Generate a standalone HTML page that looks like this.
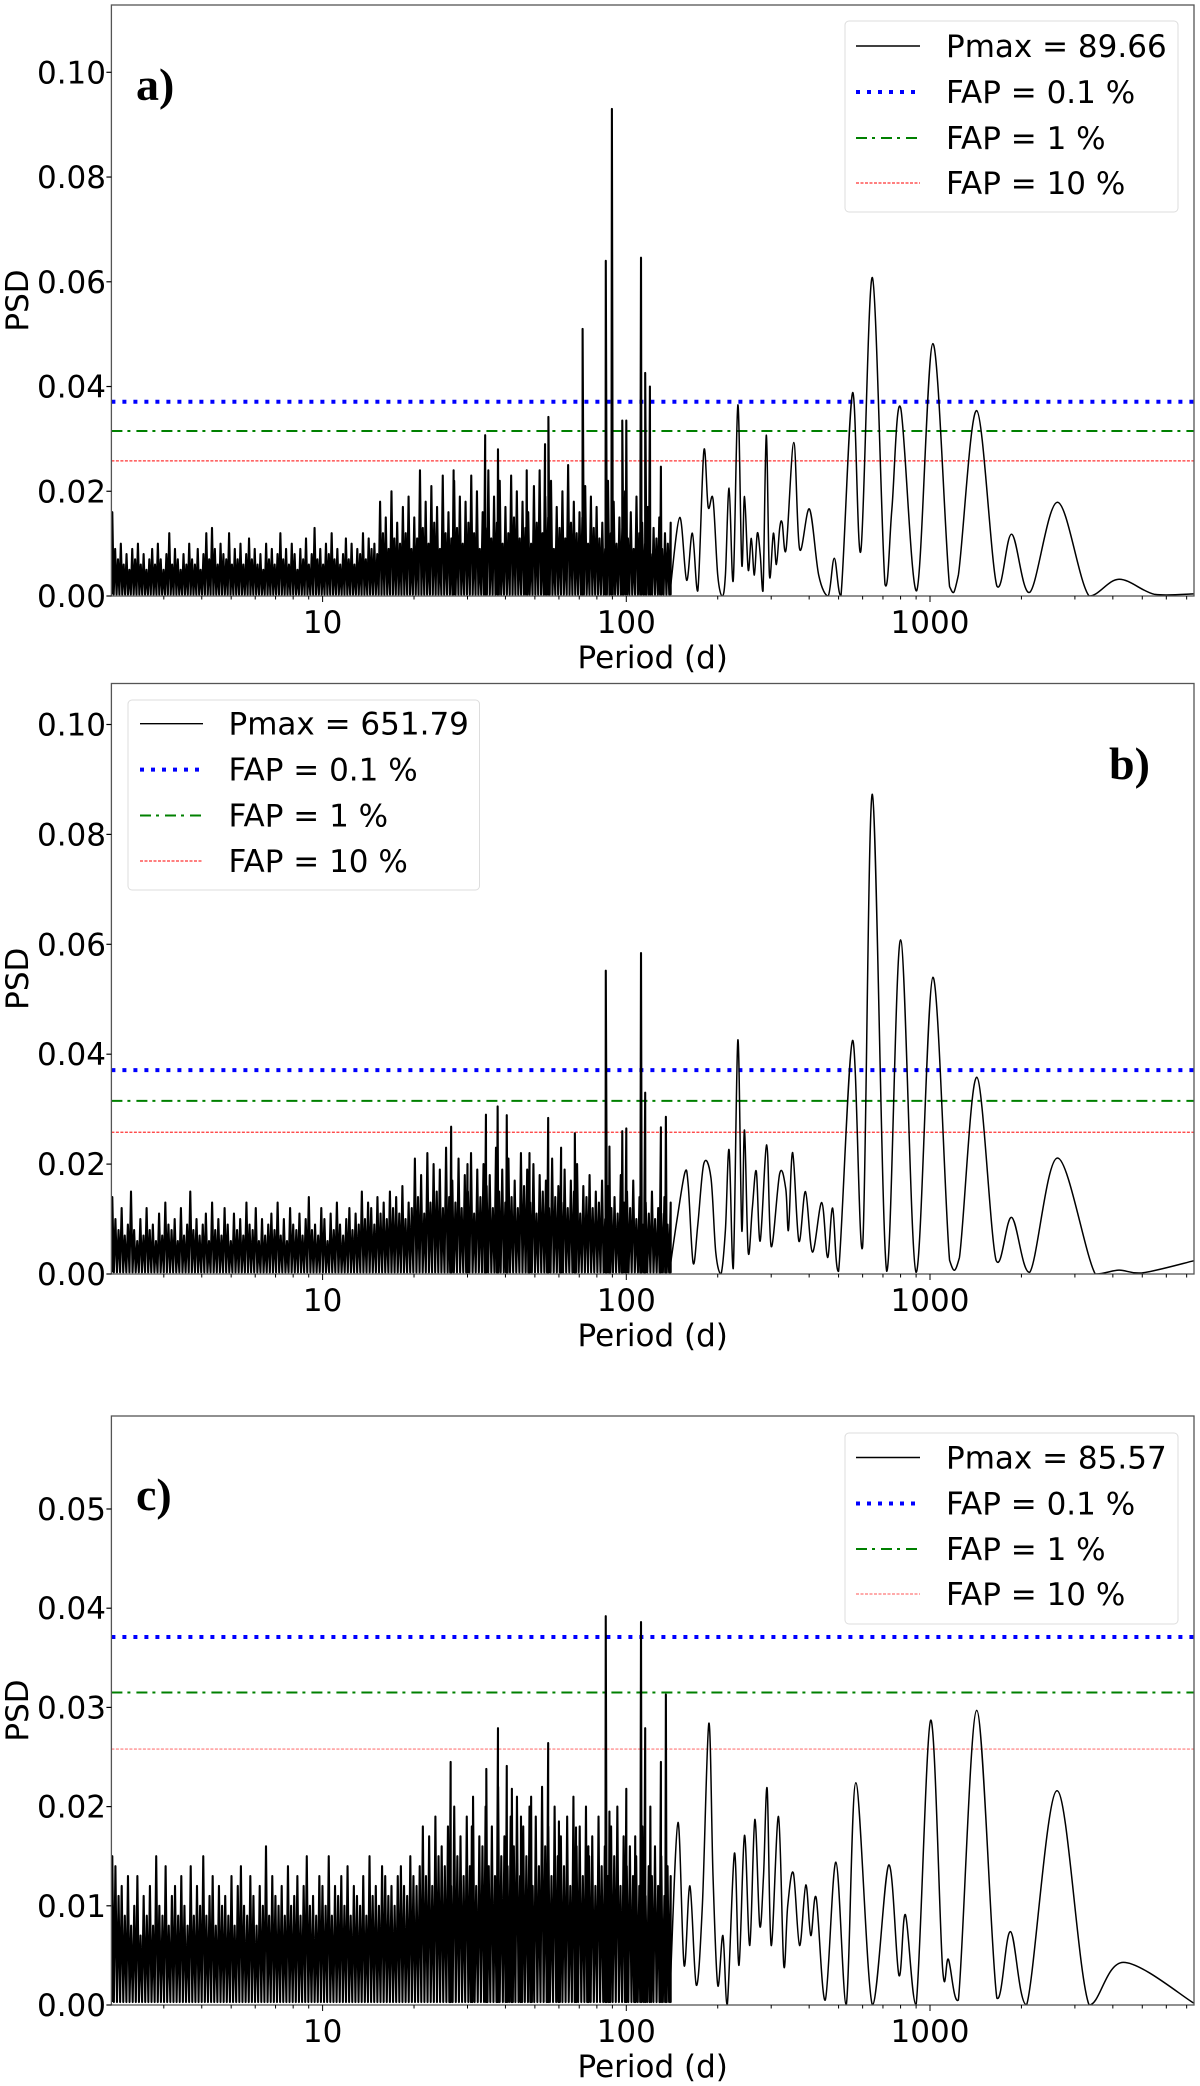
<!DOCTYPE html>
<html><head><meta charset="utf-8"><title>Periodograms</title>
<style>
html,body{margin:0;padding:0;background:#fff;}
svg{display:block;}
text{font-family:"DejaVu Sans","Liberation Sans",sans-serif;fill:#000;}
.lbl{font-family:"Liberation Serif",serif;font-weight:bold;font-size:46px;}
</style></head>
<body>
<svg id="fig" width="1200" height="2086" viewBox="0 0 1200 2086" xmlns="http://www.w3.org/2000/svg"></svg>
<script>
// ---------- data ----------
var fapLevels = [0.0371, 0.0315, 0.0258];
var fapLabels = ["FAP = 0.1 %", "FAP = 1 %", "FAP = 10 %"];
var pmaxLabels = ["Pmax = 89.66", "Pmax = 651.79", "Pmax = 85.57"];
var panelLetters = ["a)", "b)", "c)"];
var yTicksAB = [0.00, 0.02, 0.04, 0.06, 0.08, 0.10];
var yTickLabelsAB = ["0.00", "0.02", "0.04", "0.06", "0.08", "0.10"];
var yTicksC = [0.00, 0.01, 0.02, 0.03, 0.04, 0.05];
var yTickLabelsC = ["0.00", "0.01", "0.02", "0.03", "0.04", "0.05"];
var xTicks = [10, 100, 1000];
var xTickLabels = ["10", "100", "1000"];

// noise spikes (units of 1e-3), log-spaced periods 2.03 .. 140
var noiseA = [16,9,7,10,6,8,5,9,7,10,6,8,5,7,9,6,10,7,5,8,12,6,9,7,5,8,6,10,7,6,9,5,8,12,7,13,9,6,10,8,7,12,6,9,7,10,6,8,11,7,9,6,8,5,10,7,9,6,8,12,7,9,6,10,8,5,9,7,11,6,8,13,7,9,6,10,8,12,7,9,6,8,11,7,10,6,9,8,12,7,11,9,10,8,18,12,15,9,20,11,14,10,17,12,19,9,15,11,24,13,18,10,21,14,17,9,23,12,16,11,22,13,19,10,18,14,23,12,20,9,16,13,24,11,19,14,22,10,17,12,23,15,20,11,18,13,16,10,21,14,24,12,19,15,22,9,17,13,20,11,25,14,18,12,16,15,21,10,19,13,17,11,14,9,22,12,18,10,15,13,20,11,16,9,19,12,14,10,17,8,13,11,15,9,12,10,14];
var noiseB = [14,10,8,12,7,9,15,8,6,10,7,12,8,9,6,11,7,13,9,8,10,6,12,7,9,15,8,10,7,9,11,6,13,8,10,7,12,9,6,11,8,10,7,13,9,8,12,6,10,7,9,11,8,13,7,10,6,12,9,8,11,7,10,14,8,9,7,12,10,6,11,8,13,9,7,10,12,8,11,9,15,10,13,12,9,14,11,13,10,15,12,14,11,16,10,13,12,21,14,18,11,22,13,20,15,19,12,23,14,17,13,21,12,18,15,22,11,19,14,20,16,18,12,23,15,19,13,21,14,17,12,22,16,19,13,20,11,18,15,17,12,21,14,16,13,19,12,17,15,20,11,16,14,18,12,15,13,17,10,16,12,14,11,18,13,15,12,17,10,14,9,13,11,15,10,12,11,14,9,13];
var noiseC = [15,14,11,12,9,13,8,10,13,7,11,9,12,8,15,10,9,14,8,11,12,9,13,10,8,14,9,12,10,15,9,11,13,8,12,10,11,9,13,8,12,14,10,9,13,11,8,12,10,16,9,13,11,10,12,9,14,10,11,13,9,12,15,10,11,9,13,12,10,15,9,12,11,13,10,14,9,12,11,10,13,9,15,11,12,10,14,13,11,12,10,13,14,12,11,15,13,12,14,18,13,17,12,19,15,16,14,18,12,20,15,17,13,19,14,21,12,17,16,20,14,18,13,22,15,17,14,19,16,21,13,18,15,20,12,19,14,22,16,18,13,20,15,17,14,19,12,21,16,18,13,20,15,17,12,19,14,16,13,18,15,20,12,17,14,16,13,15,12,18,11,14,13,16,12,15,11,14,13];

var peaksA = [[27,0.024],[34.3,0.0307],[37.8,0.028],[47,0.024],[54,0.029],[55.4,0.0342],[71.8,0.051],[85.6,0.064],[89.66,0.093],[97,0.0335],[100,0.0335],[111.8,0.0646],[115.4,0.0426],[119.6,0.040],[130,0.0247]];
var peaksB = [[26.5,0.0268],[30,0.020],[34.5,0.029],[37.7,0.0305],[40.4,0.0289],[48,0.022],[55.3,0.0284],[61,0.023],[67.7,0.0256],[85.6,0.0552],[88,0.0232],[97,0.026],[100,0.0265],[111.8,0.0584],[115.4,0.033],[130,0.0267],[135,0.0286]];
var peaksC = [[26.4,0.0245],[31,0.018],[34.6,0.0238],[37.8,0.0279],[40.4,0.0241],[42,0.0218],[45,0.019],[48.6,0.021],[55.3,0.0264],[60,0.0185],[68.3,0.0179],[75,0.016],[85.57,0.0392],[88,0.0195],[100,0.0218],[107,0.017],[111.8,0.0386],[115.4,0.0279],[120,0.02],[130,0.0245],[135,0.0313]];

var smoothA = [[140,0.002],[150,0.015],[158,0.003],[165,0.012],[172,0.001],[180,0.0277],[186,0.017],[193,0.0185],[200,0.004],[207,0.0],[212,0.004],[218,0.0206],[225,0.003],[233,0.0365],[240,0.006],[245,0.019],[252,0.005],[258,0.011],[264,0.004],[270,0.012],[276,0.008],[282,0.001],[289,0.0307],[296,0.004],[305,0.012],[312,0.006],[320,0.013],[326,0.014],[336,0.009],[356,0.0293],[372,0.009],[401,0.0166],[430,0.004],[462,0.0],[484,0.0072],[509,0.0],[556,0.0388],[592,0.0086],[646,0.0608],[711,0.0022],[749,0.0166],[800,0.036],[904,0.001],[1022,0.0482],[1160,0.0018],[1240,0.004],[1425,0.0354],[1660,0.0019],[1857,0.0118],[2130,0.0007],[2630,0.0179],[3340,0.0],[4190,0.0032],[5500,0.0003],[7380,0.0004]];
var smoothB = [[140,0.002],[147,0.01],[156,0.0185],[160,0.016],[166,0.002],[172,0.009],[180,0.0201],[190,0.0175],[197,0.004],[205,0.0],[212,0.008],[218,0.0226],[225,0.001],[233,0.0426],[240,0.008],[245,0.0262],[252,0.004],[260,0.012],[268,0.0187],[276,0.006],[290,0.0235],[300,0.005],[320,0.0183],[335,0.0155],[342,0.008],[353,0.0221],[370,0.006],[389,0.015],[410,0.004],[440,0.013],[460,0.003],[478,0.012],[500,0.0005],[556,0.0425],[600,0.005],[646,0.0873],[720,0.0005],[800,0.0608],[900,0.0003],[1022,0.054],[1160,0.0025],[1250,0.003],[1425,0.0358],[1650,0.0025],[1857,0.0103],[2130,0.0003],[2630,0.0211],[3500,0.0],[4190,0.0007],[5000,0.0002],[7380,0.0024]];
var smoothC = [[140,0.003],[148,0.0184],[155,0.004],[162,0.012],[170,0.002],[178,0.01],[187,0.0284],[193,0.013],[200,0.002],[208,0.007],[215,0.0],[227,0.0153],[235,0.004],[245,0.0171],[255,0.006],[265,0.0187],[275,0.008],[283,0.013],[291,0.0218],[300,0.006],[317,0.019],[330,0.004],[340,0.01],[355,0.0133],[372,0.006],[390,0.0121],[405,0.007],[422,0.0108],[452,0.0005],[490,0.0144],[530,0.0],[570,0.0224],[646,0.0],[731,0.0141],[790,0.003],[830,0.0091],[900,0.0],[1005,0.0287],[1100,0.0037],[1150,0.0046],[1240,0.0005],[1425,0.0297],[1660,0.0007],[1840,0.0074],[2080,0.0],[2620,0.0216],[3340,0.0],[4330,0.0043],[7380,0.0002]];

// ---------- rendering ----------
var NS = "http://www.w3.org/2000/svg";
var svg = document.getElementById("fig");
var L = 111.4, R = 1194;
function xs(p){ return 322.6 + (Math.log10(p) - 1) * 303.7; }
function mk(tag, attrs, parent){
  var e = document.createElementNS(NS, tag);
  for (var k in attrs) e.setAttribute(k, attrs[k]);
  (parent || svg).appendChild(e);
  return e;
}

var panels = [
  {top:5, bottom:596, scale:5237, noise:noiseA, peaks:peaksA, smooth:smoothA, yt:yTicksAB, ytl:yTickLabelsAB,
   leg:{x0:845,y0:21,x1:1178,y1:212,rows:[46,92,138,183],lx0:856,lx1:920,tx:946}, lab:{x:136,y:100}, red:"#f33"},
  {top:683.5, bottom:1274, scale:5495, noise:noiseB, peaks:peaksB, smooth:smoothB, yt:yTicksAB, ytl:yTickLabelsAB,
   leg:{x0:128,y0:700,x1:479.5,y1:890,rows:[723.7,769.6,815.5,861],lx0:140,lx1:203,tx:228.5}, lab:{x:1109,y:779}, red:"#f33"},
  {top:1416, bottom:2005, scale:9920, noise:noiseC, peaks:peaksC, smooth:smoothC, yt:yTicksC, ytl:yTickLabelsC,
   leg:{x0:845,y0:1433,x1:1178,y1:1624,rows:[1457.5,1503.5,1549,1594],lx0:856,lx1:920,tx:946}, lab:{x:136,y:1510}, red:"#f77"}
];
var panelNames = ["panel-a", "panel-b", "panel-c"];

panels.forEach(function(pn, i){
  var g = mk("g", {});
  
  
  var ys = function(v){ return pn.bottom - v * pn.scale; };
  var cid = "clip" + i;
  var cp = mk("clipPath", {id:cid}, g);
  mk("rect", {x:L, y:pn.top, width:R-L, height:pn.bottom-pn.top}, cp);

  var fapStyles = [
    {stroke:"#0000ff", w:4, dash:"4,7"},
    {stroke:"#008000", w:2, dash:"11,5,3,6"},
    {stroke:pn.red, w:1.2, dash:"3,1.5"}
  ];
  var fapNames = ["fap-0.1-line","fap-1-line","fap-10-line"];
  fapLevels.forEach(function(f, j){
    var ln = mk("line", {x1:L, x2:R, y1:ys(f), y2:ys(f), stroke:fapStyles[j].stroke, "stroke-width":fapStyles[j].w, "stroke-dasharray":fapStyles[j].dash, "clip-path":"url(#"+cid+")"}, g);
    
    
  });

  // noisy part: spikes
  var pts = [];
  var n = pn.noise.length, lo = Math.log10(2.03), hi = Math.log10(140);
  for (var k = 0; k < n; k++){
    pts.push([Math.pow(10, lo + (hi - lo) * k / (n - 1)), pn.noise[k] / 1000]);
  }
  pn.peaks.forEach(function(p){ pts.push(p); });
  pts.sort(function(a, b){ return a[0] - b[0]; });
  var d = "M" + xs(pts[0][0]).toFixed(2) + "," + ys(0.0003).toFixed(2);
  pts.forEach(function(p, k){
    var x = xs(p[0]);
    d += "L" + x.toFixed(2) + "," + ys(p[1]).toFixed(2);
    var xn = k < pts.length - 1 ? xs(pts[k+1][0]) : xs(pn.smooth[0][0]);
    d += "L" + ((x + xn) / 2).toFixed(2) + "," + ys(0.0003).toFixed(2);
  });
  var sp = pn.smooth.map(function(p){ return [xs(p[0]), ys(p[1])]; });
  d += "L" + sp[0][0].toFixed(2) + "," + sp[0][1].toFixed(2);
  var noisy = mk("path", {d:d, fill:"none", stroke:"#000", "stroke-width":2.1, "stroke-linejoin":"round", "clip-path":"url(#"+cid+")"}, g);
  
  

  // smooth part (Catmull-Rom)
  var d2 = "M" + sp[0][0].toFixed(2) + "," + sp[0][1].toFixed(2);
  for (var s = 0; s < sp.length - 1; s++){
    var p0 = sp[Math.max(0, s-1)], p1 = sp[s], p2 = sp[s+1], p3 = sp[Math.min(sp.length-1, s+2)];
    var c1x = p1[0] + (p2[0]-p0[0])/6, c1y = Math.min(pn.bottom, p1[1] + (p2[1]-p0[1])/6);
    var c2x = p2[0] - (p3[0]-p1[0])/6, c2y = Math.min(pn.bottom, p2[1] - (p3[1]-p1[1])/6);
    d2 += "C" + c1x.toFixed(2) + "," + c1y.toFixed(2) + " " + c2x.toFixed(2) + "," + c2y.toFixed(2) + " " + p2[0].toFixed(2) + "," + p2[1].toFixed(2);
  }
  var curve = mk("path", {d:d2, fill:"none", stroke:"#000", "stroke-width":1.5, "stroke-linejoin":"round", "clip-path":"url(#"+cid+")"}, g);
  
  

  var fr = mk("rect", {x:L, y:pn.top, width:R-L, height:pn.bottom-pn.top, fill:"none", stroke:"#555", "stroke-width":1.3}, g);
  
  

  pn.yt.forEach(function(v, j){
    var y = ys(v);
    mk("line", {x1:L-5, x2:L, y1:y, y2:y, stroke:"#000", "stroke-width":1.2}, g);
    var t = mk("text", {x:106, y:y+11, "text-anchor":"end", "font-size":31}, g);
    t.textContent = pn.ytl[j];
    
    
  });
  for (var dec = 1; dec <= 1000; dec *= 10){
    for (var m = 1; m <= 9; m++){
      var p = dec * m;
      if (p < 2.02 || p > 7380) continue;
      var xx = xs(p);
      mk("line", {x1:xx, x2:xx, y1:pn.bottom, y2:pn.bottom + (m === 1 ? 6 : 3.5), stroke:"#000", "stroke-width":1}, g);
    }
  }
  xTicks.forEach(function(v, j){
    var t = mk("text", {x:xs(v), y:pn.bottom+37, "text-anchor":"middle", "font-size":31}, g);
    t.textContent = xTickLabels[j];
    
    
  });
  var xt = mk("text", {x:(L+R)/2, y:pn.bottom+72, "text-anchor":"middle", "font-size":31}, g);
  xt.textContent = "Period (d)";
  
  
  var cy = (pn.top + pn.bottom) / 2;
  var yt = mk("text", {x:0, y:0, "text-anchor":"middle", "font-size":31, transform:"translate(28," + cy + ") rotate(-90)"}, g);
  yt.textContent = "PSD";
  
  

  var lt = mk("text", {x:pn.lab.x, y:pn.lab.y, "class":"lbl"}, g);
  lt.textContent = panelLetters[i];
  
  

  var lg = pn.leg;
  var lgG = mk("g", {}, g);
  
  
  mk("rect", {x:lg.x0, y:lg.y0, width:lg.x1-lg.x0, height:lg.y1-lg.y0, rx:4, fill:"#fff", "fill-opacity":0.85, stroke:"#ddd", "stroke-width":1}, lgG);
  var entryStyles = [{stroke:"#000", w:1.4, dash:"none"}].concat(fapStyles);
  var entryTexts = [pmaxLabels[i]].concat(fapLabels);
  lg.rows.forEach(function(ry, j){
    var eg = mk("g", {}, lgG);
    
    
    var st = entryStyles[j];
    var a = {x1:lg.lx0, x2:lg.lx1, y1:ry, y2:ry, stroke:st.stroke, "stroke-width":st.w};
    if (st.dash !== "none") a["stroke-dasharray"] = st.dash;
    mk("line", a, eg);
    var tt = mk("text", {x:lg.tx, y:ry+11, "font-size":31}, eg);
    tt.textContent = entryTexts[j];
  });
});
</script>
</body></html>
